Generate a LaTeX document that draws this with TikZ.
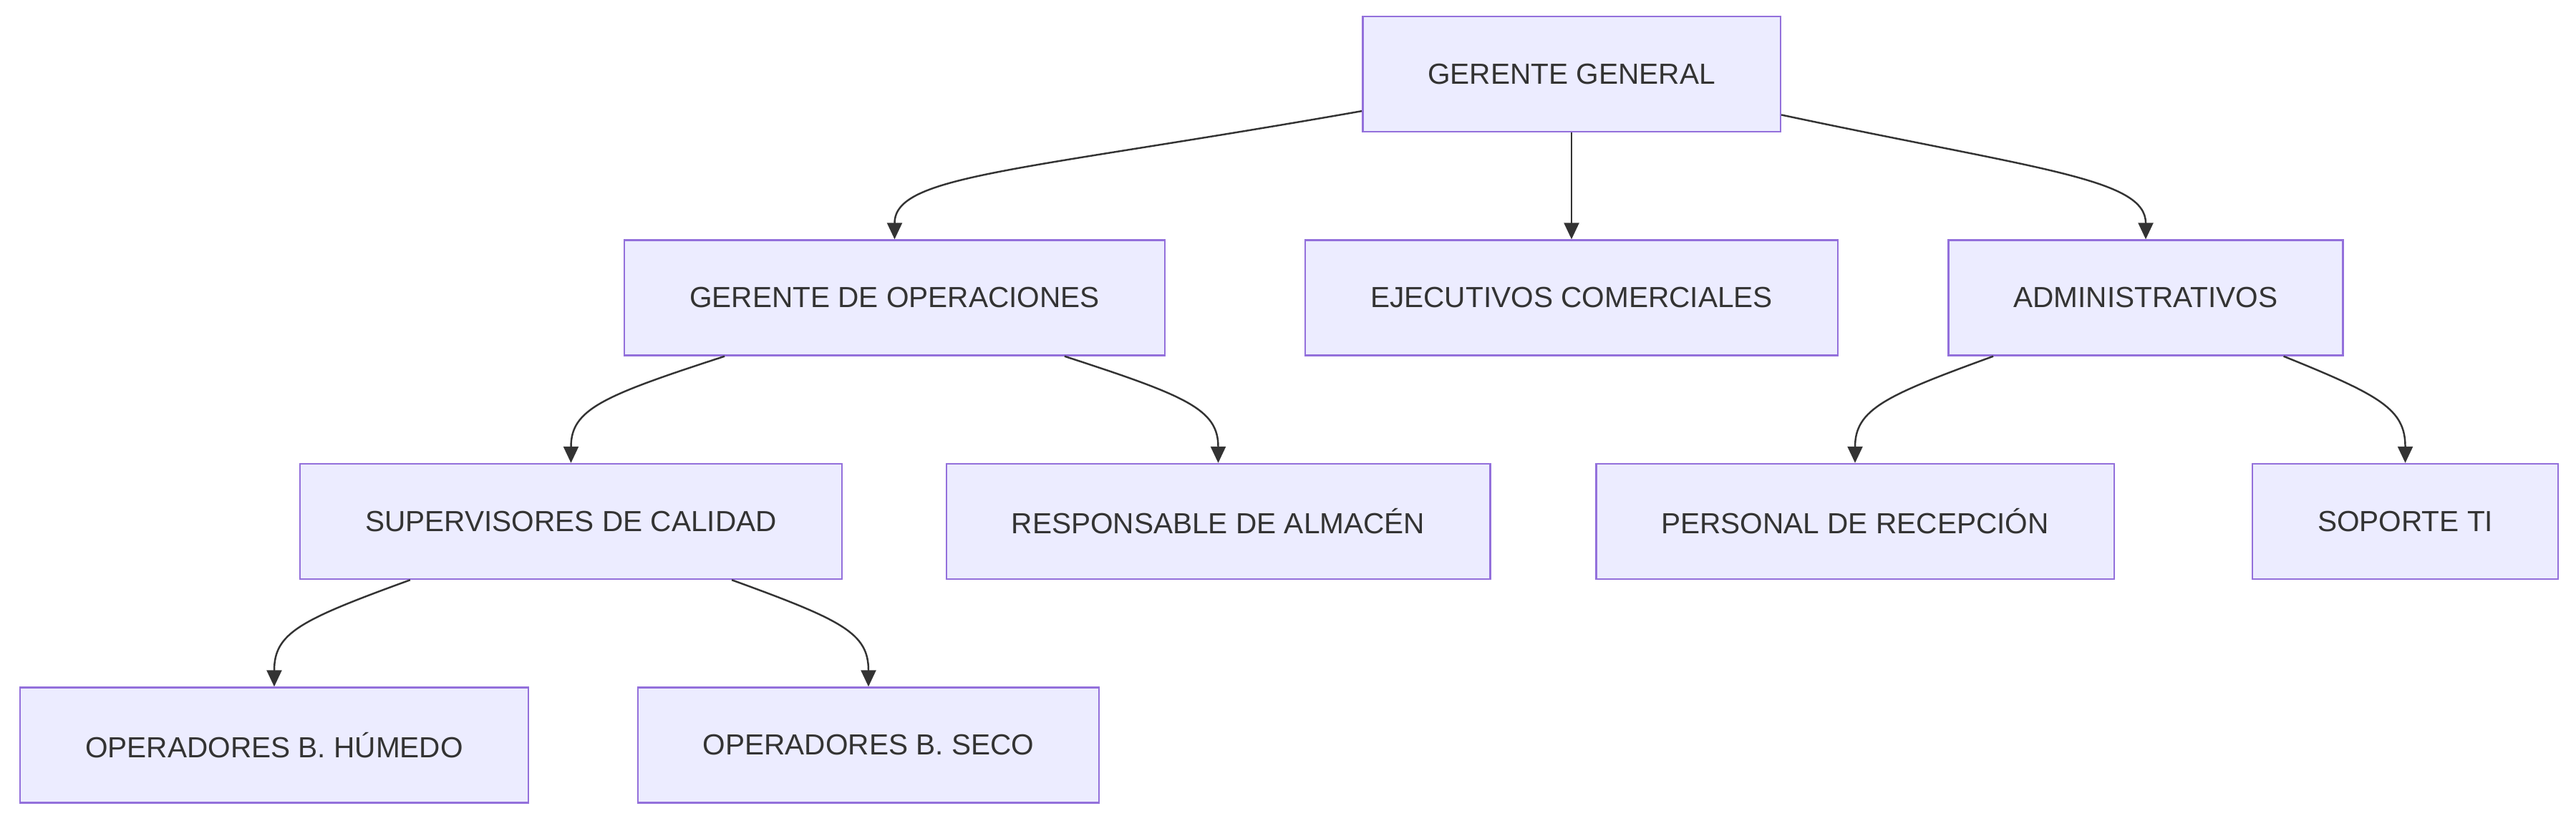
\documentclass[tikz,border=0pt]{standalone}
\usepackage{fontspec}
\setmainfont{Liberation Sans}
\usepackage{tikz}
\usetikzlibrary{positioning, arrows.meta}
\definecolor{boxfill}{HTML}{ECECFF}
\definecolor{boxline}{HTML}{9370DB}
\definecolor{ink}{HTML}{333333}
\tikzset{
    >={Triangle[length=2.3mm, width=2.1mm]}, % filled triangle tips
    node distance=3.125cm, % vertical step between two levels of the chart
    every edge/.style={draw=ink, line width=0.7pt, ->}, % makes the edges directed
    }
\begin{document}
\begin{tikzpicture}[orgbox/.style={rectangle, draw=boxline, fill=boxfill, line width=0.7pt, text=ink, minimum height=1.61cm, inner xsep=0.91cm, font=\fontsize{11.55pt}{14pt}\selectfont}]
\useasboundingbox (0,0) rectangle (35.98,-11.46);
\node[orgbox] (gg) at (21.95,-1.035) {GERENTE GENERAL};
\node[orgbox, below of=gg, xshift=-9.455cm] (ops) {GERENTE DE OPERACIONES};
\node[orgbox, below of=gg] (com) {EJECUTIVOS COMERCIALES};
\node[orgbox, below of=gg, xshift=8.02cm] (adm) {ADMINISTRATIVOS};
\node[orgbox, below of=ops, xshift=-4.52cm] (sup) {SUPERVISORES DE CALIDAD};
\node[orgbox, below of=ops, xshift=4.52cm] (alm) {RESPONSABLE DE ALMACÉN};
\node[orgbox, below of=adm, xshift=-4.06cm] (rec) {PERSONAL DE RECEPCIÓN};
\node[orgbox, below of=adm, xshift=3.625cm] (ti) {SOPORTE TI};
\node[orgbox, below of=sup, xshift=-4.145cm] (hum) {OPERADORES B. HÚMEDO};
\node[orgbox, below of=sup, xshift=4.155cm] (seco) {OPERADORES B. SECO};

\path (gg.190) edge[out=190, in=90, out distance=4.88cm, in distance=0.9cm] (ops.north)
(gg.south) edge (com.north)
(gg.349) edge[out=348, in=90, out distance=3.68cm, in distance=0.85cm] (adm.north)
(ops.199) edge[out=198, in=90, out distance=1.79cm, in distance=0.75cm] (sup.north)
(ops.341) edge[out=342, in=90, out distance=1.79cm, in distance=0.75cm] (alm.north)
(adm.201) edge[out=200, in=90, out distance=1.6cm, in distance=0.75cm] (rec.north)
(adm.337) edge[out=338, in=90, out distance=1.46cm, in distance=0.75cm] (ti.north)
(sup.200) edge[out=200, in=90, out distance=1.64cm, in distance=0.75cm] (hum.north)
(sup.340) edge[out=340, in=90, out distance=1.64cm, in distance=0.75cm] (seco.north);

\end{tikzpicture}
\end{document}
